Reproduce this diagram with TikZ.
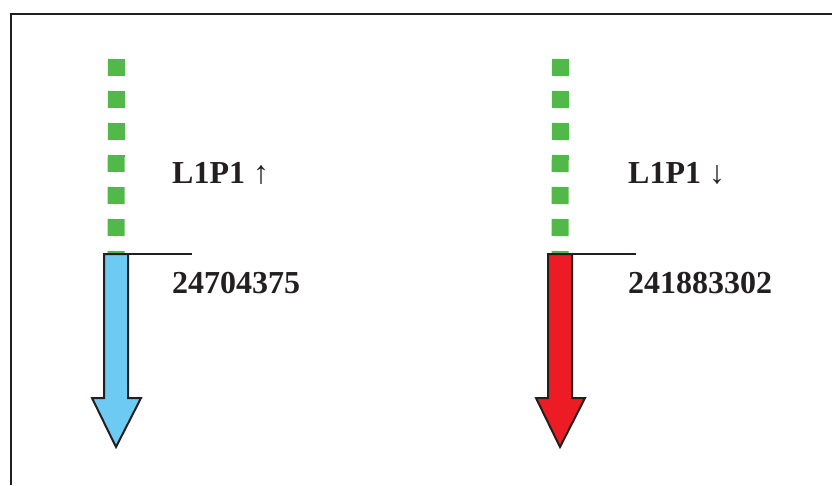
\documentclass[tikz,border=0pt]{standalone}
\usepackage{fontspec}
\setmainfont{Liberation Serif}
\usetikzlibrary{calc}

\definecolor{dotgreen}{RGB}{80,185,72}
\definecolor{upblue}{RGB}{109,202,242}
\definecolor{downred}{RGB}{237,28,36}
\definecolor{edge}{RGB}{35,31,32}

\begin{document}
\begin{tikzpicture}[x=1pt,y=-1pt,
  dots/.style={dotgreen,line width=17,dash pattern=on 17 off 15},
  fatarrow/.style={draw=edge,line width=2,line join=miter},
  label/.style={anchor=base west,inner sep=0,text=edge,font=\fontsize{32}{38}\selectfont\bfseries}]

\useasboundingbox (0,0) rectangle (832,485);

% Frame
\draw[edge,line width=2] (11,485) -- (11,14) -- (834,14);

% Left column
\coordinate (A) at (116,254);
\draw[dots] (116.5,59) -- (A);
\draw[fatarrow,fill=upblue] ($(A)+(-12,0)$) -- ++(24,0) -- ++(0,144) -- ++(13,0)
  -- (116,447) -- (92,398) -- ++(12,0) -- cycle;
\coordinate (Aend) at (192,254);
\draw[edge,line width=1.3] ($(A)+(-12,0)$) -- (Aend);
\node[label] (upname) at (172,183) {L1P1 ↑};
\node[label] (upcount) at (172,293) {24704375};

% Right column
\coordinate (B) at (560,254);
\draw[dots] (560.5,59) -- (B);
\draw[fatarrow,fill=downred] ($(B)+(-12,0)$) -- ++(24,0) -- ++(0,144) -- ++(13,0)
  -- (560,447) -- (536,398) -- ++(12,0) -- cycle;
\coordinate (Bend) at (636,254);
\draw[edge,line width=1.3] ($(B)+(-12,0)$) -- (Bend);
\node[label] (downname) at (628,183) {L1P1 ↓};
\node[label] (downcount) at (628,293) {241883302};

\end{tikzpicture}
\end{document}
